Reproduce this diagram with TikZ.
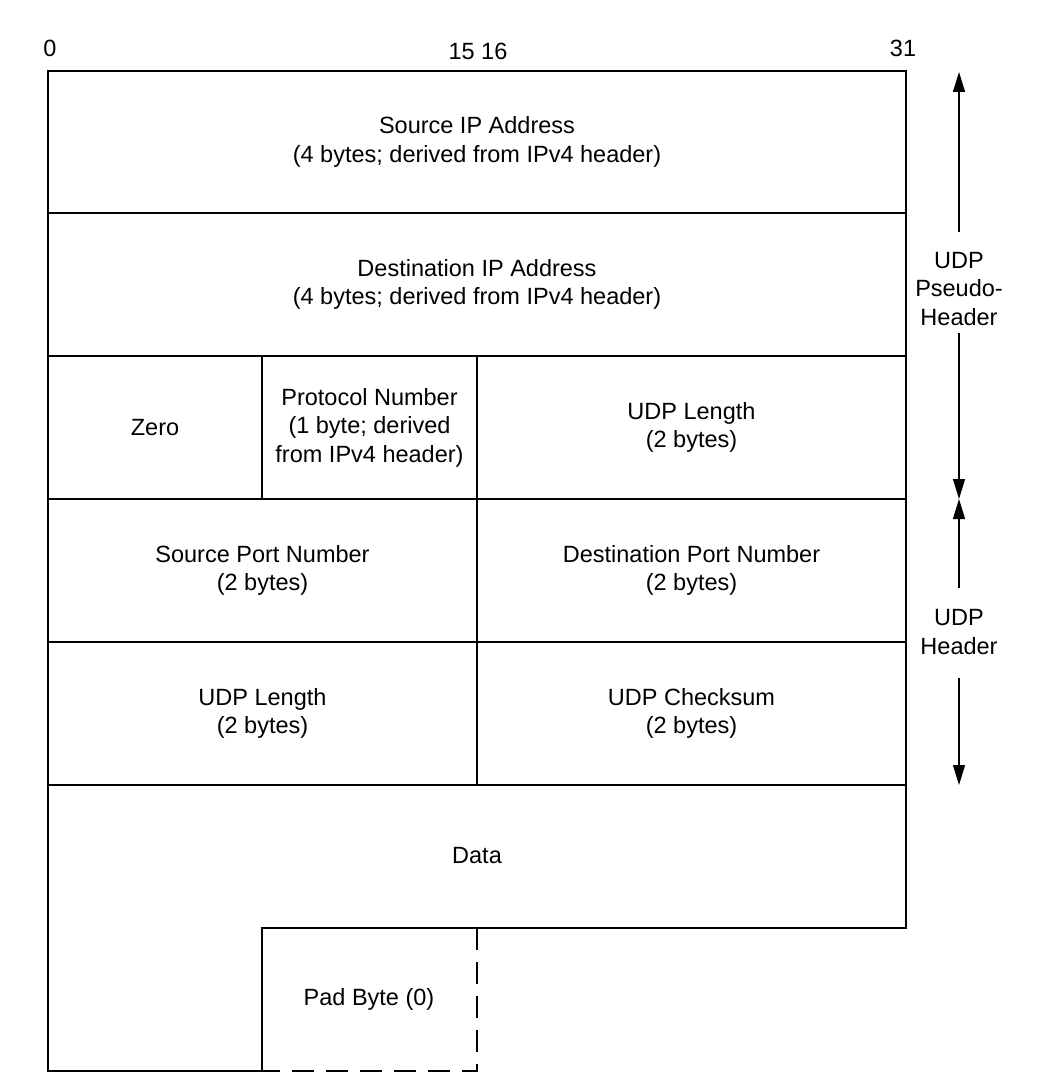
\documentclass[tikz,border=0pt]{standalone}
\usepackage{fontspec}
\setmainfont{Liberation Sans}
\usetikzlibrary{arrows.meta}
\begin{document}
\begin{tikzpicture}[x=1pt,y=-1pt,
  lbl/.style={font=\fontsize{23.5}{28.5}\selectfont, align=center, inner sep=0pt},
  cell/.style={lbl, draw, line width=1.3pt, anchor=north west, outer sep=0pt},
  edge/.style={line width=1.3pt},
  padline/.style={line width=1.3pt, dash pattern=on 22pt off 12pt},
  arr/.style={line width=1.3pt, -{Triangle[length=20pt,width=12pt]}}
]
\useasboundingbox (0,0) rectangle (1048,1091);

% bit numbers
\node[lbl] (b0) at (50,48) {0};
\node[lbl] (b15) at (478,51) {15 16};
\node[lbl] (b31) at (903,48) {31};

% header rows
\node[cell, minimum width=858pt, minimum height=142pt] (srcip) at (48,71) {Source IP Address\\(4 bytes; derived from IPv4 header)};
\node[cell, minimum width=858pt, minimum height=143pt] (dstip) at (48,213) {Destination IP Address\\(4 bytes; derived from IPv4 header)};
\node[cell, minimum width=214pt, minimum height=143pt] (zero) at (48,356) {Zero};
\node[cell, minimum width=215pt, minimum height=143pt] (proto) at (262,356) {Protocol Number\\(1 byte; derived\\from IPv4 header)};
\node[cell, minimum width=429pt, minimum height=143pt] (udplenA) at (477,356) {UDP Length\\(2 bytes)};
\node[cell, minimum width=429pt, minimum height=143pt] (srcport) at (48,499) {Source Port Number\\(2 bytes)};
\node[cell, minimum width=429pt, minimum height=143pt] (dstport) at (477,499) {Destination Port Number\\(2 bytes)};
\node[cell, minimum width=429pt, minimum height=143pt] (udplenB) at (48,642) {UDP Length\\(2 bytes)};
\node[cell, minimum width=429pt, minimum height=143pt] (cksum) at (477,642) {UDP Checksum\\(2 bytes)};

% data area
\draw[edge] (48,785) -- (906,785) -- (906,928) -- (262,928) -- (262,1071) -- (48,1071) -- cycle;
\node[lbl] (data) at (477,856) {Data};

% pad byte
\draw[padline] (477,928) -- (477,1071) -- (262,1071);
\node[lbl] (pad) at (369,999) {Pad Byte (0)};

% side annotations
\node[lbl] (pseudo) at (959,289) {UDP\\Pseudo-\\Header};
\node[lbl] (udph) at (959,632) {UDP\\Header};
\coordinate (phTop) at (959,72);
\coordinate (phA) at (959,232);
\coordinate (phB) at (959,333);
\coordinate (mid) at (959,499);
\coordinate (uhA) at (959,588);
\coordinate (uhB) at (959,678);
\coordinate (uhBot) at (959,785);
\draw[arr] (phA) -- (phTop);
\draw[arr] (phB) -- (mid);
\draw[arr] (uhA) -- (mid);
\draw[arr] (uhB) -- (uhBot);
\end{tikzpicture}
\end{document}
